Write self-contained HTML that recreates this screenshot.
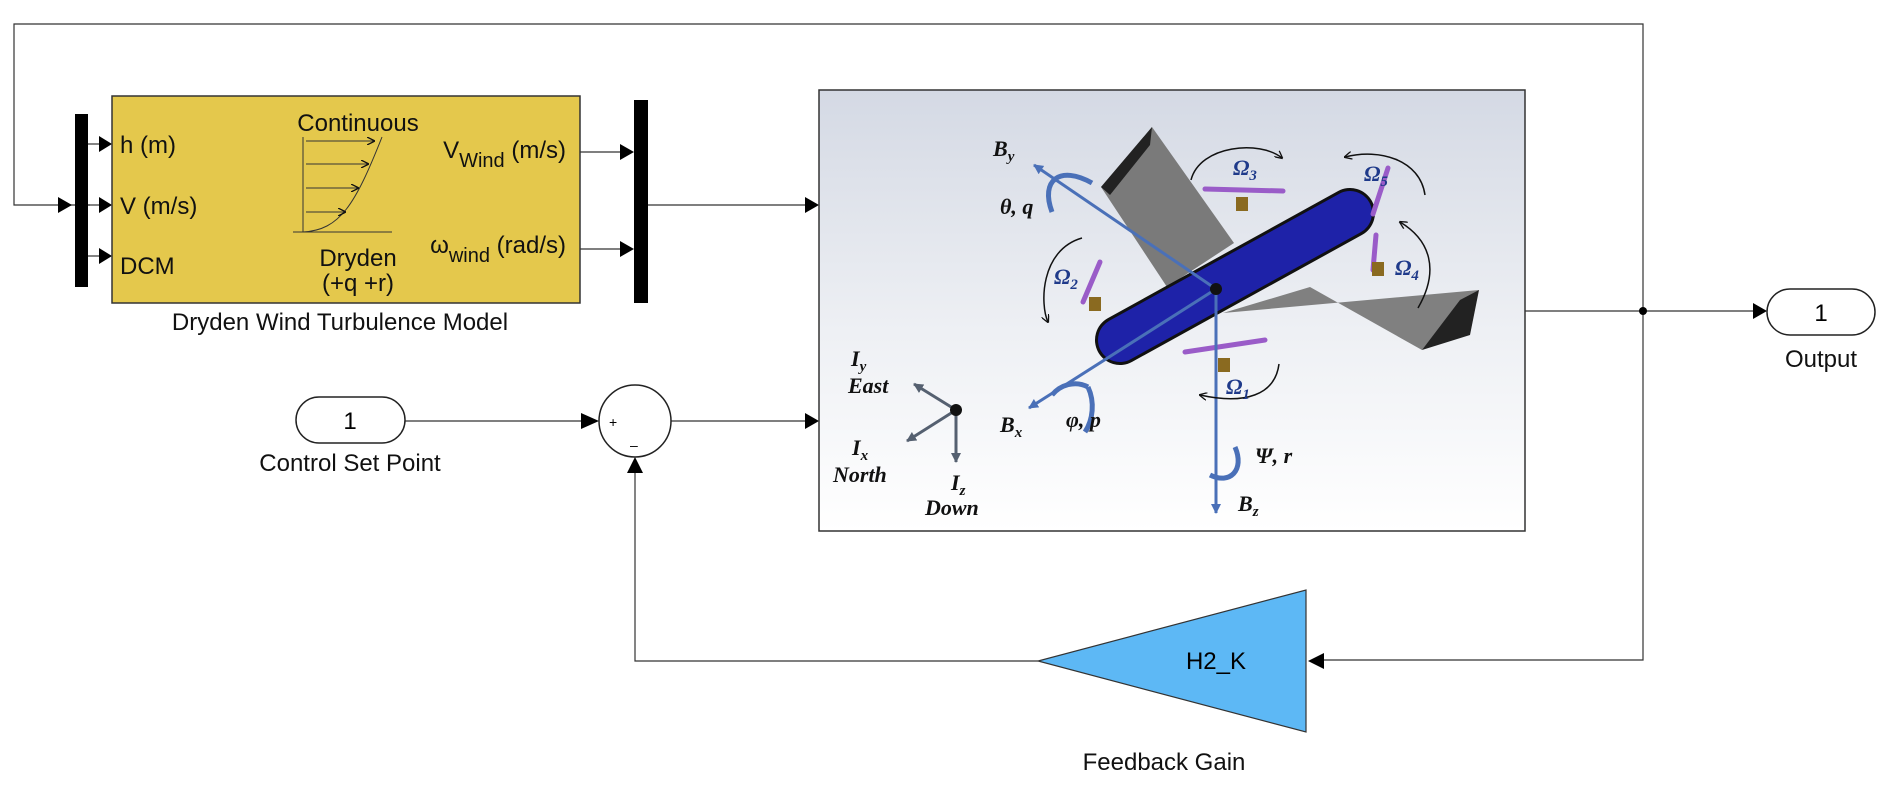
<!DOCTYPE html>
<html><head><meta charset="utf-8"><style>html,body{margin:0;padding:0;background:#fff}svg{display:block}</style></head>
<body>
<svg width="1879" height="793" viewBox="0 0 1879 793" xmlns="http://www.w3.org/2000/svg" font-family="Liberation Sans, sans-serif">
<defs>
<linearGradient id="bg" x1="0" y1="0" x2="0" y2="1"><stop offset="0" stop-color="#d4d9e4"/><stop offset="0.55" stop-color="#eef0f4"/><stop offset="1" stop-color="#ffffff"/></linearGradient>
<marker id="ah" markerWidth="10" markerHeight="10" refX="9" refY="5" orient="auto" markerUnits="userSpaceOnUse"><path d="M0,0 L10,5 L0,10 z" fill="#4a70b8"/></marker>
<marker id="ag" markerWidth="10" markerHeight="10" refX="9" refY="5" orient="auto" markerUnits="userSpaceOnUse"><path d="M0,0 L10,5 L0,10 z" fill="#556070"/></marker>
<marker id="ak" markerWidth="8" markerHeight="8" refX="7" refY="4" orient="auto" markerUnits="userSpaceOnUse"><path d="M0,0 L8,4 L0,8" fill="none" stroke="#111" stroke-width="1.3"/></marker>
</defs>
<g stroke="#333" stroke-width="1.2" fill="none">
<polyline points="90,205 14,205 14,24 1643,24 1643,660 1324,660"/>
<line x1="648" y1="205" x2="805" y2="205"/>
<line x1="1525" y1="311" x2="1755" y2="311"/>
<line x1="405" y1="421" x2="585" y2="421"/>
<line x1="671" y1="421" x2="805" y2="421"/>
<polyline points="1038,661 635,661 635,470"/>
<line x1="88" y1="144" x2="100" y2="144"/><line x1="88" y1="205" x2="100" y2="205"/><line x1="88" y1="256" x2="100" y2="256"/>
<line x1="580" y1="152" x2="620" y2="152"/><line x1="580" y1="249" x2="620" y2="249"/>
</g>
<g fill="#000">
<path d="M58,197 L72,205 L58,213z"/>
<path d="M99,136 L112,144 L99,152z"/><path d="M99,197 L112,205 L99,213z"/><path d="M99,248 L112,256 L99,264z"/>
<path d="M620,144 L634,152 L620,160z"/><path d="M620,241 L634,249 L620,257z"/>
<path d="M805,197 L819,205 L805,213z"/><path d="M805,413 L819,421 L805,429z"/>
<path d="M1753,303 L1767,311 L1753,319z"/>
<path d="M581,413 L599,421 L581,429z"/>
<path d="M627,473 L635,457 L643,473z"/>
<path d="M1324,653 L1308,661 L1324,669z"/>
<circle cx="1643" cy="311" r="4"/>
<rect x="75" y="114" width="13" height="173"/>
<rect x="634" y="100" width="14" height="203"/>
</g>
<rect x="112" y="96" width="468" height="207" fill="#e4c84c" stroke="#333" stroke-width="1.5"/>
<g font-size="24" fill="#111">
<text x="358" y="131" text-anchor="middle">Continuous</text>
<text x="120" y="153">h (m)</text>
<text x="120" y="214">V (m/s)</text>
<text x="120" y="274">DCM</text>
<text x="358" y="266" text-anchor="middle">Dryden</text>
<text x="358" y="291" text-anchor="middle">(+q +r)</text>
<text x="566" y="158" text-anchor="end">V<tspan font-size="20" dy="9">Wind</tspan><tspan dy="-9"> (m/s)</tspan></text>
<text x="566" y="253" text-anchor="end">ω<tspan font-size="20" dy="9">wind</tspan><tspan dy="-9"> (rad/s)</tspan></text>
<text x="340" y="330" text-anchor="middle">Dryden Wind Turbulence Model</text>
<text x="350" y="471" text-anchor="middle">Control Set Point</text>
<text x="1821" y="367" text-anchor="middle">Output</text>
<text x="1164" y="770" text-anchor="middle">Feedback Gain</text>
</g>
<g stroke="#333" stroke-width="1" fill="none">
<line x1="303" y1="137" x2="303" y2="232"/><line x1="293" y1="232" x2="392" y2="232"/>
<path d="M303,232 C340,230 355,205 382,137"/>
<line x1="306" y1="141" x2="374" y2="141" marker-end="url(#ak)"/>
<line x1="306" y1="164" x2="368" y2="164" marker-end="url(#ak)"/>
<line x1="306" y1="188" x2="358" y2="188" marker-end="url(#ak)"/>
<line x1="306" y1="212" x2="345" y2="212" marker-end="url(#ak)"/>
</g>
<rect x="296" y="397" width="109" height="46" rx="23" fill="#fff" stroke="#222" stroke-width="1.5"/>
<text x="350" y="429" font-size="24" text-anchor="middle">1</text>
<rect x="1767" y="289" width="108" height="46" rx="23" fill="#fff" stroke="#222" stroke-width="1.5"/>
<text x="1821" y="321" font-size="24" text-anchor="middle">1</text>
<circle cx="635" cy="421" r="36" fill="#fff" stroke="#222" stroke-width="1.5"/>
<text x="609" y="427" font-size="14">+</text><text x="630" y="450" font-size="14">–</text>
<path d="M1306,590 L1306,732 L1038,661z" fill="#5db8f5" stroke="#333" stroke-width="1.2"/>
<text x="1216" y="669" font-size="24" text-anchor="middle">H2_K</text>
<rect x="819" y="90" width="706" height="441" fill="url(#bg)" stroke="#333" stroke-width="1.5"/>
<g>
<path d="M1101,187 L1152,127 L1234,243 L1167,287z" fill="#7a7a7a"/>
<path d="M1101,187 L1152,127 L1150,145 L1110,195z" fill="#222"/>
<path d="M1223,313 L1479,290 L1422,350 L1310,287z" fill="#808080"/>
<path d="M1460,300 L1479,290 L1470,335 L1422,350z" fill="#222"/>
<line x1="1120" y1="340" x2="1350" y2="213" stroke="#111" stroke-width="50" stroke-linecap="round"/>
<line x1="1120" y1="340" x2="1350" y2="213" stroke="#1e22a8" stroke-width="44" stroke-linecap="round"/>
<g stroke="#9a5cc8" stroke-width="5" stroke-linecap="round">
<line x1="1205" y1="189" x2="1283" y2="191"/><line x1="1373" y1="214" x2="1388" y2="168"/>
<line x1="1373" y1="270" x2="1376" y2="235"/><line x1="1083" y1="302" x2="1100" y2="262"/>
<line x1="1185" y1="352" x2="1265" y2="340"/>
</g>
<g fill="#8a6a20"><rect x="1236" y="197" width="12" height="14"/><rect x="1372" y="262" width="12" height="14"/><rect x="1089" y="297" width="12" height="14"/><rect x="1218" y="358" width="12" height="14"/></g>
<g stroke="#4a70b8" stroke-width="3" fill="none">
<line x1="1216" y1="289" x2="1034" y2="165" marker-end="url(#ah)"/>
<line x1="1216" y1="289" x2="1029" y2="408" marker-end="url(#ah)"/>
<line x1="1216" y1="289" x2="1216" y2="513" marker-end="url(#ah)"/>
<path d="M1052,212 C1040,180 1060,165 1092,183" stroke-width="5"/>
<path d="M1088,387 C1095,402 1093,420 1085,432" stroke-width="5"/><path d="M1088,387 C1075,380 1060,385 1052,395" stroke-width="5"/>
<path d="M1235,447 C1245,470 1230,485 1210,475" stroke-width="5"/>
</g>
<g stroke="#556070" stroke-width="3">
<line x1="956" y1="410" x2="914" y2="384" marker-end="url(#ag)"/>
<line x1="956" y1="410" x2="907" y2="441" marker-end="url(#ag)"/>
<line x1="956" y1="410" x2="956" y2="462" marker-end="url(#ag)"/>
</g>
<circle cx="956" cy="410" r="6" fill="#111"/>
<circle cx="1216" cy="289" r="6" fill="#111"/>
<g stroke="#111" stroke-width="1.5" fill="none">
<path d="M1191,180 C1200,145 1260,140 1282,158" marker-end="url(#ak)"/>
<path d="M1425,195 C1420,160 1380,148 1345,157" marker-end="url(#ak)"/>
<path d="M1418,308 C1440,270 1430,240 1400,222" marker-end="url(#ak)"/>
<path d="M1082,238 C1040,250 1040,305 1048,322" marker-end="url(#ak)"/>
<path d="M1279,364 C1275,395 1245,405 1200,395" marker-end="url(#ak)"/>
</g>
<g font-family="Liberation Serif, serif" font-weight="bold" font-style="italic" font-size="22" fill="#111">
<text x="993" y="156">B<tspan font-size="15" dy="5">y</tspan></text>
<text x="1000" y="214">θ, q</text>
<text x="1000" y="432">B<tspan font-size="15" dy="5">x</tspan></text>
<text x="1066" y="427">φ, p</text>
<text x="1255" y="463">Ψ, r</text>
<text x="1238" y="511">B<tspan font-size="15" dy="5">z</tspan></text>
<text x="851" y="366">I<tspan font-size="15" dy="5">y</tspan></text>
<text x="848" y="393">East</text>
<text x="852" y="455">I<tspan font-size="15" dy="5">x</tspan></text>
<text x="833" y="482">North</text>
<text x="951" y="490">I<tspan font-size="15" dy="5">z</tspan></text>
<text x="925" y="515">Down</text>
<g fill="#1f3a8a"><text x="1233" y="175">Ω<tspan font-size="15" dy="5">3</tspan></text>
<text x="1364" y="181">Ω<tspan font-size="15" dy="5">5</tspan></text>
<text x="1054" y="284">Ω<tspan font-size="15" dy="5">2</tspan></text>
<text x="1395" y="275">Ω<tspan font-size="15" dy="5">4</tspan></text>
<text x="1226" y="394">Ω<tspan font-size="15" dy="5">1</tspan></text></g>
</g>
</g>
</svg>
</body></html>
